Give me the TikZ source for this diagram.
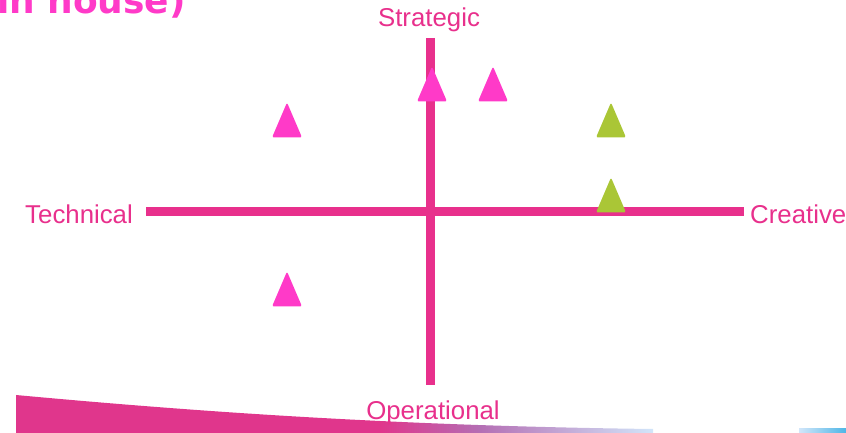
\documentclass[tikz,border=0pt]{standalone}
\usepackage{fontspec}
\setmainfont{Liberation Sans}
\newfontfamily\titlefont{DejaVu Sans}
\usepackage{tikz}

\definecolor{axispink}{RGB}{232,48,140}
\definecolor{markpink}{RGB}{255,58,200}
\definecolor{markgreen}{RGB}{170,198,54}
\definecolor{wavepink}{RGB}{224,54,140}
\definecolor{wavemid}{RGB}{180,110,180}
\definecolor{waveblue}{RGB}{210,230,250}
\definecolor{barblue}{RGB}{77,182,230}

% triangle marker at a named coordinate
\newcommand{\marker}[2]{%
  \fill[#2, rounded corners=2pt] ([shift={(-15,-17.5)}]#1) -- ([shift={(15,-17.5)}]#1) -- ([shift={(0,17.5)}]#1) -- cycle;}

\begin{document}
\begin{tikzpicture}[x=1pt, y=1pt,
	axis/.style = {draw=axispink, line width=9pt},
	lbl/.style = {text=axispink, font=\fontsize{25.8}{28}\selectfont, inner sep=0pt}]
	\useasboundingbox (0,0) rectangle (846,433);
	\clip (0,0) rectangle (846,433);

	% bottom wave
	\begin{scope}
		\clip (16,38) .. controls (200,21) and (400,7) .. (653,4) -- (653,0) -- (16,0) -- cycle;
		\fill[wavepink] (16,0) rectangle (381,40);
		\shade[left color=wavepink, right color=wavemid] (380,0) rectangle (480,40);
		\shade[left color=wavemid, right color=waveblue] (479,0) rectangle (654,40);
	\end{scope}
	\shade[left color=waveblue, right color=barblue] (799,0) rectangle (846,4);

	% title (cut off)
	\node[anchor=base east, inner sep=0pt, text=markpink, font=\titlefont\bfseries\fontsize{36}{40}\selectfont] (title) at (186,419) {in house)};

	% labels
	\node[lbl] (s) at (429,413) {Strategic};
	\node[lbl] (o) at (433,20) {Operational};
	\node[lbl, anchor=east] (t) at (133,219) {Technical};
	\node[lbl, anchor=west] (c) at (750,219) {Creative};

	% axes
	\coordinate (top) at (430,395);
	\coordinate (bot) at (430,48);
	\coordinate (left) at (146,221);
	\coordinate (right) at (744,221);
	\draw[axis] (left) -- (right);
	\draw[axis] (top) -- (bot);

	% markers
	\coordinate (m1) at (287,313);
	\coordinate (m2) at (432,349);
	\coordinate (m3) at (493,349);
	\coordinate (m4) at (611,313);
	\coordinate (m5) at (611,238);
	\coordinate (m6) at (287,144);
	\marker{m1}{markpink}
	\marker{m2}{markpink}
	\marker{m3}{markpink}
	\marker{m4}{markgreen}
	\marker{m5}{markgreen}
	\marker{m6}{markpink}
\end{tikzpicture}
\end{document}
